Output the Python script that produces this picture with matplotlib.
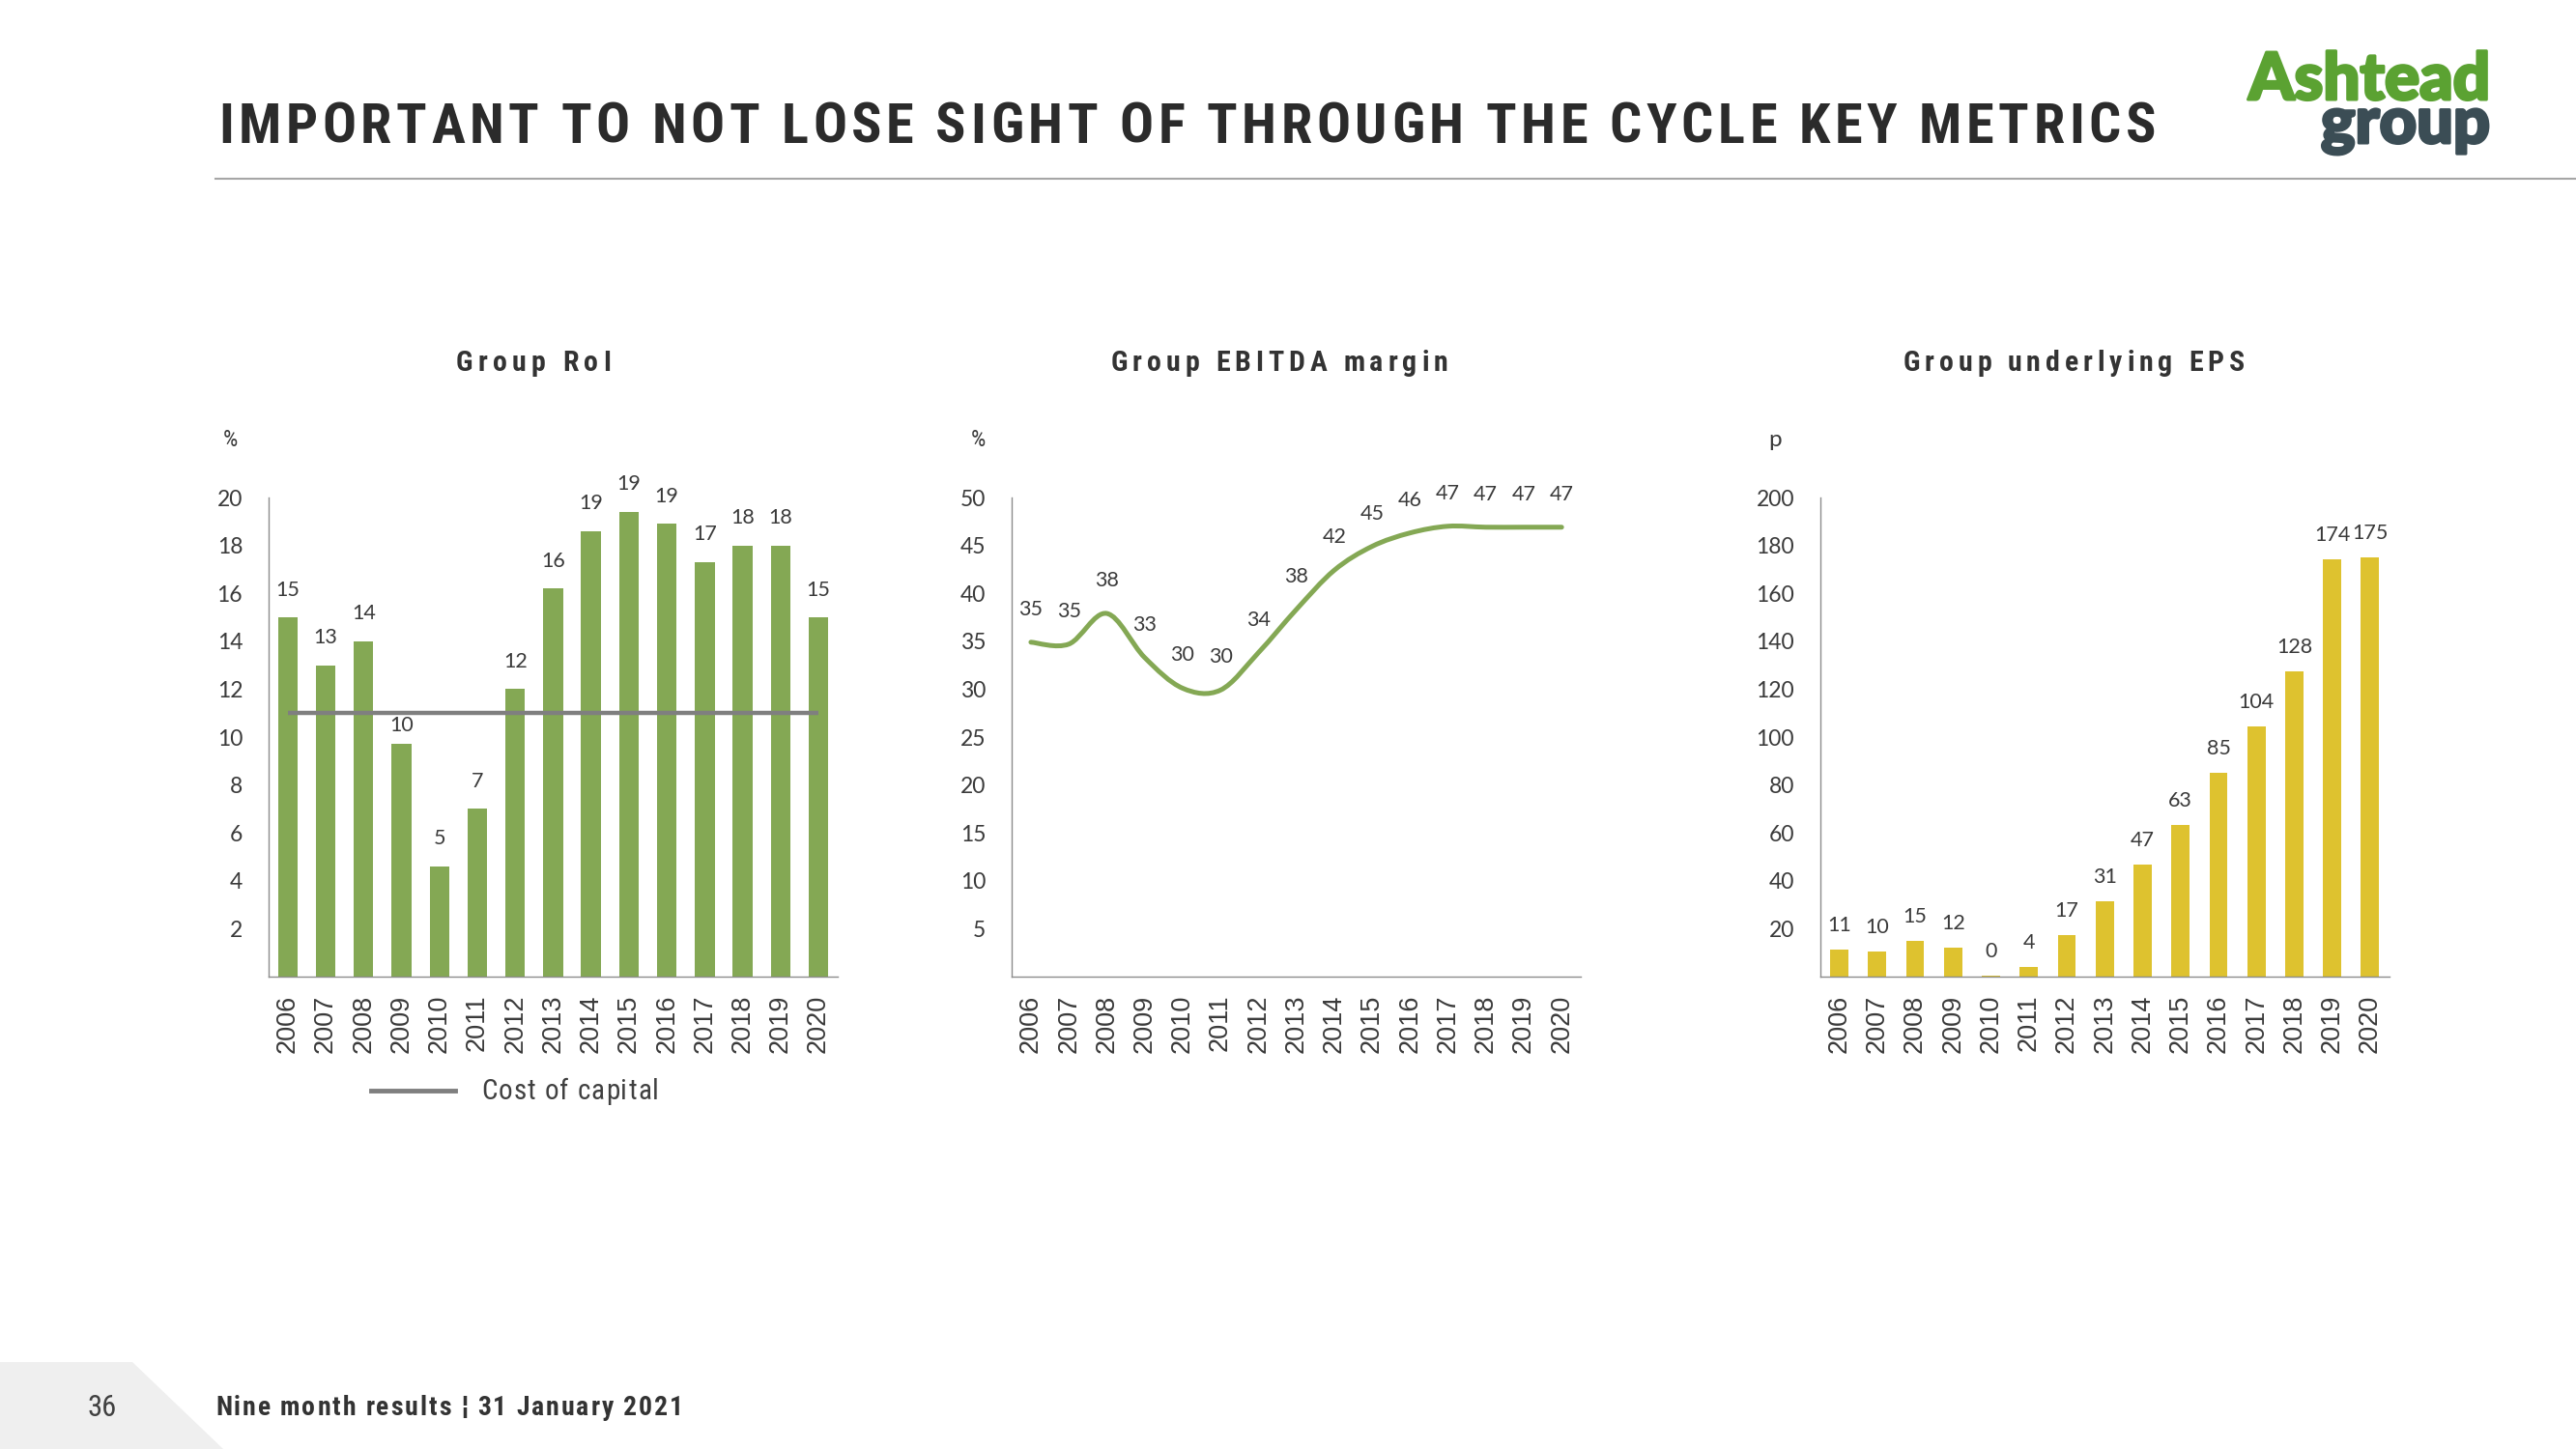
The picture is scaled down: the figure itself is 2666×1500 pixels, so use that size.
import numpy as np
import matplotlib
matplotlib.use("Agg")
import matplotlib.pyplot as plt
from matplotlib import font_manager as fm
from matplotlib import patheffects as pe
from matplotlib.path import Path
from matplotlib.patches import PathPatch, Polygon
from matplotlib.lines import Line2D

# ---------------- data ----------------
years = [str(y) for y in range(2006, 2021)]

roi = [15.0, 13.0, 14.0, 9.7, 4.6, 7.0, 12.0, 16.2, 18.6, 19.4, 18.9, 17.3, 18.0, 18.0, 15.0]
cost_of_capital = 11.0
roi_ticks = [2, 4, 6, 8, 10, 12, 14, 16, 18, 20]

ebitda = [34.9, 34.7, 37.9, 33.3, 30.1, 29.9, 33.8, 38.3, 42.4, 44.9, 46.3, 47.0, 46.9, 46.9, 46.9]
ebitda_ticks = [5, 10, 15, 20, 25, 30, 35, 40, 45, 50]

eps = [11.4, 10.4, 15.0, 12.2, 0.4, 4.2, 17.4, 31.3, 46.8, 63.2, 85.1, 104.4, 127.6, 174.3, 175.2]
eps_ticks = [20, 40, 60, 80, 100, 120, 140, 160, 180, 200]

main_title = "IMPORTANT TO NOT LOSE SIGHT OF THROUGH THE CYCLE KEY METRICS"
chart_titles = ["Group RoI", "Group EBITDA margin", "Group underlying EPS"]
unit_labels = ["%", "%", "p"]
legend_label = "Cost of capital"
footer_text = "Nine month results \u00a6 31 January 2021"
page_no = "36"

# ---------------- style ----------------
GREEN = "#84A854"
YELLOW = "#DEC22F"
GREY_LINE = "#7f7f7f"
TXT = "#3a3a3a"
SPINE = "#8c8c8c"

ttf = fm.fontManager.ttflist
names = {f.name for f in ttf}
NARROW_KW = {"fontfamily": "Liberation Sans"}
if "Liberation Sans Narrow" in names:
    NARROW_KW = {"fontfamily": "Liberation Sans Narrow"}
elif "Roboto Condensed" in names:
    NARROW_KW = {"fontfamily": "Roboto Condensed"}
elif any(f.name == "DejaVu Sans" and "condensed" in str(f.stretch) for f in ttf):
    NARROW_KW = {"fontfamily": "DejaVu Sans", "fontstretch": "condensed"}
NUMF = "Lato" if "Lato" in names else "DejaVu Sans"
YEARF = "Liberation Sans"

W, H = 2666, 1500
fig = plt.figure(figsize=(W / 100, H / 100), dpi=100)
fig.patch.set_facecolor("white")


def fx(x):
    return x / W


def fy(y):
    return 1 - y / H


renderer = fig.canvas.get_renderer()


def text_w(s, **kw):
    t = fig.text(0, 0, s, **kw)
    w = t.get_window_extent(renderer=renderer).width
    t.remove()
    return w


def tracked(x, y, s, width, ha="left", **kw):
    """Draw s with letter spacing so that it spans `width` px; y is baseline (px from top)."""
    bar = text_w("|", **kw)
    adv = [0.0]
    for i in range(1, len(s)):
        adv.append(text_w(s[:i] + "|", **kw) - bar)
    nat = text_w(s, **kw)
    n = max(len(s) - 1, 1)
    tr = max((width - nat) / n, 0.0)
    total = nat + tr * n
    if ha == "center":
        x0 = x - total / 2
    elif ha == "right":
        x0 = x - total
    else:
        x0 = x
    for i, ch in enumerate(s):
        if ch == " ":
            continue
        fig.text(fx(x0 + adv[i] + i * tr), fy(y), ch, ha="left", va="baseline", **kw)


def fitted(x, y, s, width, size, ha="left", **kw):
    """Single text whose font size is scaled to span `width` px (y is baseline)."""
    w = text_w(s, fontsize=size, **kw)
    return fig.text(fx(x), fy(y), s, ha=ha, va="baseline", fontsize=size * width / w, **kw)


# ---------------- axes ----------------
AX_W = 588.5
AX_TOP, AX_BOT = 515.0, 1011.0
ax_lefts = [278.2, 1047.3, 1884.0]
axes = [fig.add_axes([fx(l), fy(AX_BOT), AX_W / W, (AX_BOT - AX_TOP) / H]) for l in ax_lefts]

xs = np.arange(len(years))


def style(ax, ticks):
    ax.set_xlim(-0.5, len(years) - 0.5)
    ax.set_ylim(0, ticks[-1])
    ax.set_yticks(ticks)
    ax.set_yticklabels([str(t) for t in ticks], fontfamily=NUMF, fontsize=16.5, color=TXT)
    ax.set_xticks(xs)
    ax.set_xticklabels(years, rotation=90, fontfamily=YEARF, fontsize=19.5, color=TXT)
    ax.tick_params(axis="both", length=0)
    ax.tick_params(axis="x", pad=13.5)
    ax.tick_params(axis="y", pad=19.5)
    for side in ("top", "right"):
        ax.spines[side].set_visible(False)
    for side in ("left", "bottom"):
        ax.spines[side].set_color(SPINE)
        ax.spines[side].set_linewidth(1.0)
    ax.set_facecolor("none")


def labels(ax, vals, off, special=None):
    special = special or {}
    for i, v in enumerate(vals):
        ax.annotate(f"{v:.0f}", (i, v), xytext=(0, special.get(i, off)), textcoords="offset points",
                    ha="center", va="center", fontfamily=NUMF, fontsize=15.5, color=TXT,
                    annotation_clip=False)


# RoI
ax1 = axes[0]
style(ax1, roi_ticks)
ax1.bar(xs, roi, width=0.52, color=GREEN, zorder=2)
ax1.hlines(cost_of_capital, xs[0], xs[-1], color=GREY_LINE, lw=3.2, zorder=3)
labels(ax1, roi, 20.5, special={3: 14.0})

# EBITDA margin (smoothed line)
ax2 = axes[1]
style(ax2, ebitda_ticks)


def smooth_path(px, py):
    P = list(zip(px, py))
    n = len(P)
    verts = [P[0]]
    codes = [Path.MOVETO]
    for i in range(n - 1):
        p0 = P[i - 1] if i > 0 else P[i]
        p1 = P[i]
        p2 = P[i + 1]
        p3 = P[i + 2] if i + 2 < n else P[i + 1]
        c1 = (p1[0] + (p2[0] - p0[0]) / 6, p1[1] + (p2[1] - p0[1]) / 6)
        c2 = (p2[0] - (p3[0] - p1[0]) / 6, p2[1] - (p3[1] - p1[1]) / 6)
        verts += [c1, c2, p2]
        codes += [Path.CURVE4] * 3
    return Path(verts, codes)


ax2.add_patch(PathPatch(smooth_path(xs, ebitda), fill=False, edgecolor=GREEN, lw=3.6,
                        capstyle="round", joinstyle="round", zorder=3))
labels(ax2, ebitda, 24.5)

# EPS
ax3 = axes[2]
style(ax3, eps_ticks)
ax3.bar(xs, eps, width=0.48, color=YELLOW, zorder=2)
labels(ax3, eps, 18)

# ---------------- chart titles / units ----------------
title_centers = [552, 1324, 2146]
title_widths = [160, 349, 353]
for cx, w, s in zip(title_centers, title_widths, chart_titles):
    tracked(cx, 384.5, s, w, ha="center", fontweight="bold", fontsize=21.5, color="#333333",
            **NARROW_KW)

unit_x = [238, 1012, 1837]
for ux, s in zip(unit_x, unit_labels):
    kw = NARROW_KW if s == "%" else {"fontfamily": NUMF}
    fig.text(fx(ux), fy(456), s, ha="center", va="center", fontsize=17.5, color=TXT, **kw)

# legend for cost of capital
fig.add_artist(Line2D([fx(384), fx(471)], [fy(1129), fy(1129)], color=GREY_LINE, lw=3.5))
tracked(498, 1138, legend_label, 184, fontsize=21, color="#404040", **NARROW_KW)

# ---------------- slide chrome ----------------
tracked(226, 148, main_title, 2005, fontweight="bold", fontsize=42, color="#2b2b2b",
        **NARROW_KW)
fig.add_artist(Line2D([fx(223), fx(2666)], [fy(185), fy(185)], color="#a6a6a6", lw=1.5))

# logo
stroke_g = [pe.withStroke(linewidth=2.2, foreground="#5BA232")]
stroke_d = [pe.withStroke(linewidth=2.2, foreground="#3B4D55")]
fitted(2577, 103, "Ashtead", 250, 47, ha="right", fontfamily=NUMF, fontweight="black",
       color="#5BA232", path_effects=stroke_g)
fitted(2577, 148, "group", 175, 47, ha="right", fontfamily=NUMF, fontweight="black",
       color="#3B4D55", path_effects=stroke_d)

# footer
fig.add_artist(Polygon([[fx(0), fy(1410)], [fx(137), fy(1410)], [fx(231), fy(1500)], [fx(0), fy(1500)]],
                       closed=True, transform=fig.transFigure, facecolor="#efefef", edgecolor="none",
                       zorder=0))
fig.text(fx(106), fy(1466), page_no, ha="center", va="baseline", fontsize=22, color="#404040",
         **NARROW_KW)
tracked(223, 1465, footer_text, 484, fontweight="bold", fontsize=20, color="#333333", **NARROW_KW)

fig.savefig("out.png", dpi=100, facecolor="white")
